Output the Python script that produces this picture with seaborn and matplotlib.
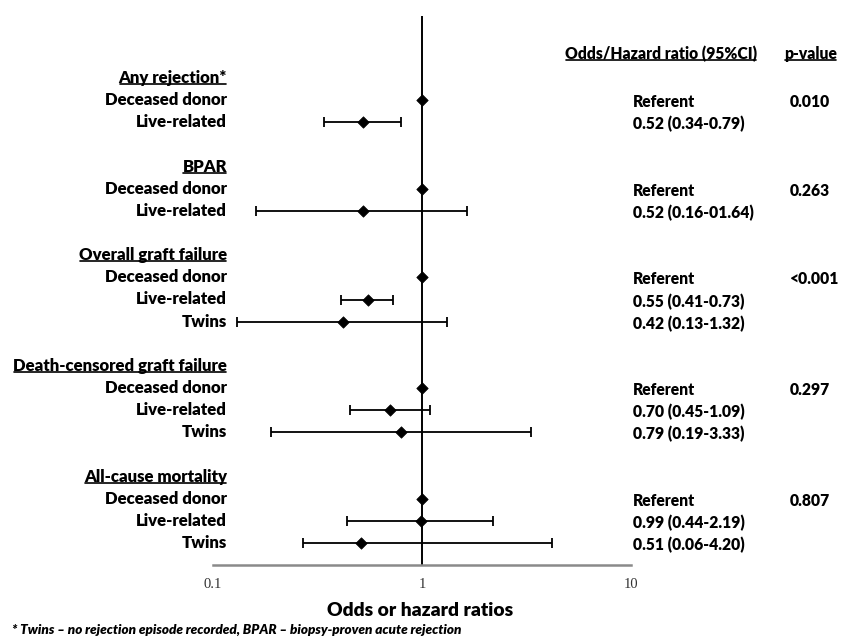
import numpy as np
import pandas as pd
import matplotlib
matplotlib.use("Agg")
import matplotlib.pyplot as plt
import seaborn as sns
from matplotlib.transforms import blended_transform_factory
from matplotlib.lines import Line2D

# ---------------- data ----------------
group_names = ["Any rejection*", "BPAR", "Overall graft failure",
               "Death-censored graft failure", "All-cause mortality"]
any_rej_levels = ["Deceased donor", "Live-related"]
any_rej_ratio = [1.0, 0.52]
any_rej_low = [np.nan, 0.34]
any_rej_high = [np.nan, 0.79]
any_rej_text = ["Referent", "0.52 (0.34-0.79)"]

bpar_levels = ["Deceased donor", "Live-related"]
bpar_ratio = [1.0, 0.52]
bpar_low = [np.nan, 0.16]
bpar_high = [np.nan, 1.64]
bpar_text = ["Referent", "0.52 (0.16-01.64)"]

ogf_levels = ["Deceased donor", "Live-related", "Twins"]
ogf_ratio = [1.0, 0.55, 0.42]
ogf_low = [np.nan, 0.41, 0.13]
ogf_high = [np.nan, 0.73, 1.32]
ogf_text = ["Referent", "0.55 (0.41-0.73)", "0.42 (0.13-1.32)"]

dc_levels = ["Deceased donor", "Live-related", "Twins"]
dc_ratio = [1.0, 0.70, 0.79]
dc_low = [np.nan, 0.45, 0.19]
dc_high = [np.nan, 1.09, 3.33]
dc_text = ["Referent", "0.70 (0.45-1.09)", "0.79 (0.19-3.33)"]

acm_levels = ["Deceased donor", "Live-related", "Twins"]
acm_ratio = [1.0, 0.99, 0.51]
acm_low = [np.nan, 0.44, 0.27]   # lower whisker as drawn in the picture
acm_high = [np.nan, 2.19, 4.20]
acm_text = ["Referent", "0.99 (0.44-2.19)", "0.51 (0.06-4.20)"]

p_values = ["0.010", "0.263", "<0.001", "0.297", "0.807"]

x_ticks = [0.1, 1, 10]
x_tick_labels = ["0.1", "1", "10"]
x_label = "Odds or hazard ratios"
col_header_ci = "Odds/Hazard ratio (95%CI)"
col_header_p = "p-value"
footnote = "* Twins \u2013 no rejection episode recorded, BPAR \u2013 biopsy-proven acute rejection"

groups = [
    (any_rej_levels, any_rej_ratio, any_rej_low, any_rej_high, any_rej_text),
    (bpar_levels, bpar_ratio, bpar_low, bpar_high, bpar_text),
    (ogf_levels, ogf_ratio, ogf_low, ogf_high, ogf_text),
    (dc_levels, dc_ratio, dc_low, dc_high, dc_text),
    (acm_levels, acm_ratio, acm_low, acm_high, acm_text),
]

# build row table
rows = []
header_rows = []
r = 0
for gi, (lv, ra, lo, hi, tx) in enumerate(groups):
    header_rows.append((r, group_names[gi], p_values[gi]))
    r += 1
    for k in range(len(lv)):
        rows.append(dict(row=r, level=lv[k], ratio=ra[k], low=lo[k], high=hi[k],
                         text=tx[k], group=group_names[gi]))
        r += 1
    r += 1
df = pd.DataFrame(rows)

# ---------------- figure ----------------
sns.set_theme(style="white")
plt.rcParams["font.family"] = ["Lato", "DejaVu Sans"]
WEIGHT = "heavy"

W, H = 843, 638
fig = plt.figure(figsize=(W / 100, H / 100), dpi=100)
px_x = lambda x: x / W
px_y = lambda y: 1 - y / H

ax_top, ax_bot = 16, 565
ax = fig.add_axes([px_x(213), px_y(ax_bot), px_x(631) - px_x(213), px_y(ax_top) - px_y(ax_bot)])

row0, rstep = 78, 22.15
ax.set_ylim((ax_bot - row0) / rstep, (ax_top - row0) / rstep)
ax.set_xscale("log")
ax.set_xlim(0.1, 10)

ax.axvline(1, color="black", lw=1.4, zorder=1)

ci = df.dropna(subset=["low"])
ax.errorbar(ci["ratio"], ci["row"],
            xerr=[ci["ratio"] - ci["low"], ci["high"] - ci["ratio"]],
            fmt="none", ecolor="black", elinewidth=1.3, capsize=3.5, capthick=1.3, zorder=2)
sns.scatterplot(data=df, x="ratio", y="row", marker="D", color="black", s=34,
                edgecolor="black", linewidth=0.5, ax=ax, zorder=3, legend=False)

for s in ["top", "right", "left"]:
    ax.spines[s].set_visible(False)
ax.spines["bottom"].set_color("#8a8a8a")
ax.spines["bottom"].set_linewidth(1.8)
ax.set_xticks(x_ticks)
ax.set_xticklabels(x_tick_labels)
ax.minorticks_off()
ax.tick_params(axis="x", direction="in", length=5, width=1.5, color="#8a8a8a",
               pad=9, labelsize=10.5, labelcolor="#333333")
for t in ax.get_xticklabels():
    t.set_family(["Liberation Serif", "DejaVu Serif"])
ax.set_yticks([])
ax.set_xlabel("")
ax.set_ylabel("")

trans = blended_transform_factory(fig.transFigure, ax.transData)

left_texts, head_texts, right_texts, p_texts = [], [], [], []
for rr, name, pv in header_rows:
    head_texts.append(ax.text(px_x(227), rr, name, transform=trans, ha="right", va="center",
                              fontweight=WEIGHT, fontsize=11, color="black"))
    p_texts.append(ax.text(px_x(790), rr + 1 + 0.09, pv, transform=trans, ha="left", va="center",
                           fontweight=WEIGHT, fontsize=11, color="black"))
for _, row in df.iterrows():
    left_texts.append(ax.text(px_x(227), row["row"], row["level"], transform=trans, ha="right",
                              va="center", fontweight=WEIGHT, fontsize=11, color="black"))
    right_texts.append(ax.text(px_x(633), row["row"] + 0.09, row["text"], transform=trans,
                               ha="left", va="center", fontweight=WEIGHT, fontsize=11, color="black"))

hdr_y = -1 - 0.09
col_hdrs = [ax.text(px_x(757), hdr_y, col_header_ci, transform=trans, ha="right", va="center",
                    fontweight=WEIGHT, fontsize=11, color="black"),
            ax.text(px_x(784), hdr_y, col_header_p, transform=trans, ha="left", va="center",
                    fontweight=WEIGHT, fontsize=11, color="black")]

xl = fig.text(px_x(420), px_y(610), x_label, ha="center", va="center", fontweight=WEIGHT,
              fontsize=13, color="black")
fn = fig.text(px_x(12), px_y(630), footnote, ha="left", va="center", fontweight=WEIGHT,
              fontstyle="italic", fontsize=8, color="black")

fig.canvas.draw()
rend = fig.canvas.get_renderer()


def scale_for(ref, target):
    return target / ref.get_window_extent(rend).width


def apply(objs, f):
    for o in objs:
        o.set_fontsize(o.get_fontsize() * f)


ref_dd = [t for t in left_texts if t.get_text() == "Deceased donor"][0]
apply(left_texts + head_texts, scale_for(ref_dd, 123))
ref_r = [t for t in right_texts if t.get_text() == "0.52 (0.16-01.64)"][0]
f_r = 0.5 * (scale_for(ref_r, 129) + scale_for(col_hdrs[0], 175))
apply(right_texts + p_texts + col_hdrs, f_r)
apply([xl], scale_for(xl, 186))
apply([fn], scale_for(fn, 451))

fig.canvas.draw()
rend = fig.canvas.get_renderer()
inv = fig.transFigure.inverted()
for t in head_texts + col_hdrs:
    bb = t.get_window_extent(rend)
    y = bb.y0 + 0.12 * bb.height
    (x0, yy), (x1, _) = inv.transform([(bb.x0 + 1, y), (bb.x1 - 1, y)])
    fig.add_artist(Line2D([x0, x1], [yy, yy], transform=fig.transFigure, color="black", lw=1.2))

fig.savefig("out.png", dpi=100)
